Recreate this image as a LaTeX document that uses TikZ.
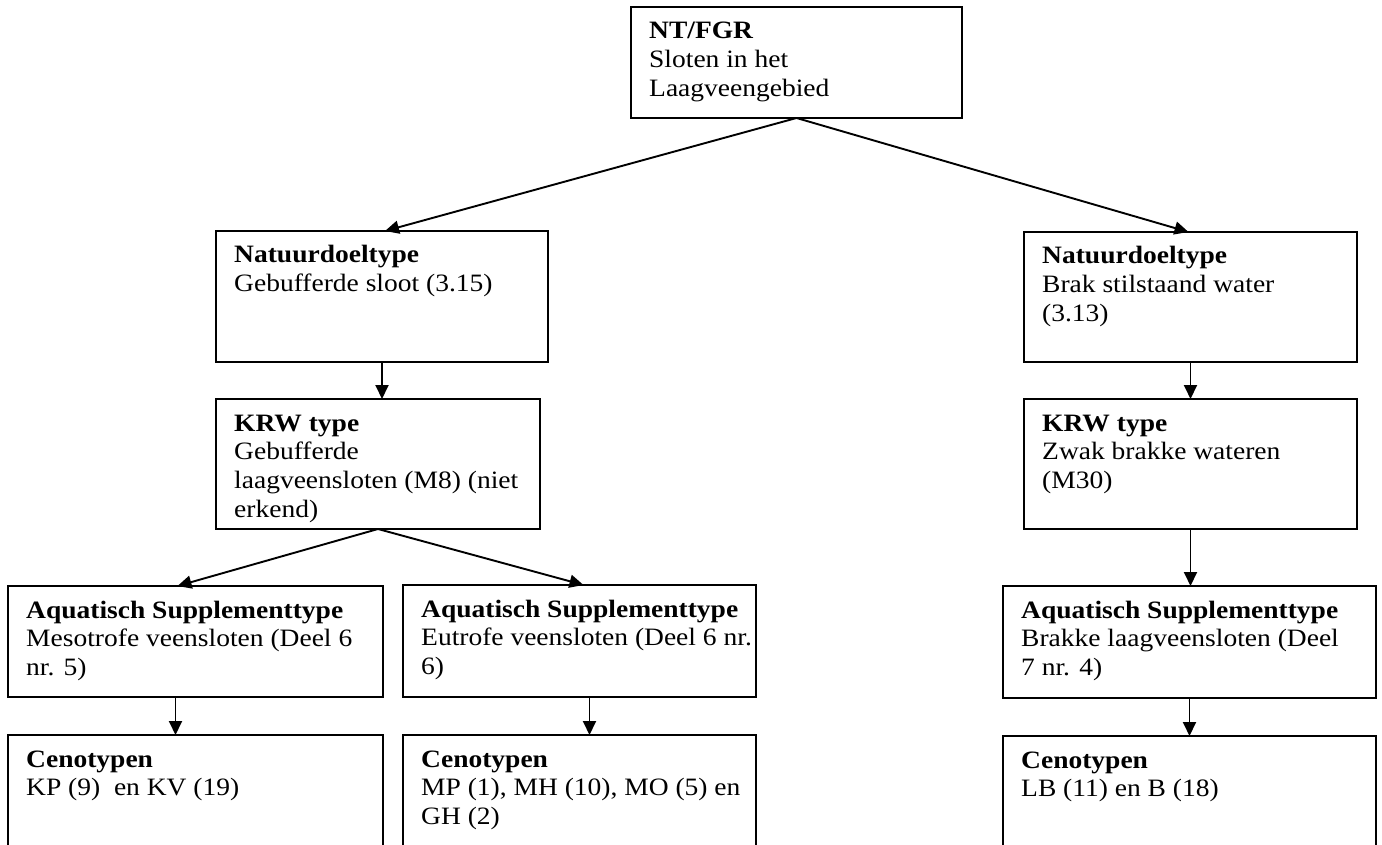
\documentclass[tikz,border=0pt]{standalone}
\usepackage{fontspec}
\setmainfont{Liberation Serif}[FakeStretch=1.1]
\usetikzlibrary{arrows.meta}
\tikzset{
  box/.style={draw, line width=1.8pt, rectangle, anchor=north west, inner sep=0pt, outer sep=0pt},
  txt/.style={anchor=base west, inner sep=0pt, font=\fontsize{25}{28.7}\selectfont},
  arr/.style={line width=1.9pt, -{Triangle[length=14pt,width=13pt]}}
}
\newcommand\flowbox[6]{%
  \node[box, minimum width=#4-#2, minimum height=#5-#3] (#1) at (#2,#3) {};
  \node[txt] (#1t) at ([xshift=18pt,yshift=-32pt]#1.north west) {\parbox[t]{420pt}{\raggedright #6}};
}
\begin{document}
\begin{tikzpicture}[x=1pt,y=-1pt]
\useasboundingbox (0,0) rectangle (1382,845);
\clip (0,0) rectangle (1382,845);
\fill[white] (0,0) rectangle (1382,845);

\flowbox{top}{631}{7}{962}{118}{\textbf{NT/FGR}\\Sloten in het\\Laagveengebied}
\flowbox{n1}{216}{231}{548}{362}{\textbf{Natuurdoeltype}\\Gebufferde sloot (3.15)}
\flowbox{n2}{1024}{232}{1357}{362}{\textbf{Natuurdoeltype}\\Brak stilstaand water\\(3.13)}
\flowbox{k1}{216}{399}{540}{529}{\textbf{KRW type}\\Gebufferde\\laagveensloten (M8) (niet\\erkend)}
\flowbox{k2}{1024}{399}{1357}{529}{\textbf{KRW type}\\Zwak brakke wateren\\(M30)}
\flowbox{a1}{8}{586}{383}{697}{\textbf{Aquatisch Supplementtype}\\Mesotrofe veensloten (Deel 6\\nr. 5)}
\flowbox{a2}{403}{585}{756}{697}{\textbf{Aquatisch Supplementtype}\\Eutrofe veensloten (Deel 6 nr.\\6)}
\flowbox{a3}{1003}{586}{1376}{698}{\textbf{Aquatisch Supplementtype}\\Brakke laagveensloten (Deel\\7 nr. 4)}
\flowbox{c1}{8}{735}{383}{900}{\textbf{Cenotypen}\\KP (9)\ \ en KV (19)}
\flowbox{c2}{403}{735}{756}{900}{\textbf{Cenotypen}\\MP (1), MH (10), MO (5) en\\GH (2)}
\flowbox{c3}{1003}{736}{1376}{900}{\textbf{Cenotypen}\\LB (11) en B (18)}

\draw[arr] (top.south) -- ([xshift=3pt]n1.north);
\draw[arr] (top.south) -- ([xshift=-2pt]n2.north);
\draw[arr] (n1.south) -- (n1.south |- k1.north);
\draw[arr] (n2.south) -- (n2.south |- k2.north);
\draw[arr] (k1.south) -- ([xshift=-18pt]a1.north);
\draw[arr] (k1.south) -- ([xshift=4pt]a2.north);
\draw[arr] (k2.south) -- (k2.south |- a3.north);
\draw[arr] ([xshift=-20pt]a1.south) -- ([xshift=-20pt]c1.north);
\draw[arr] ([xshift=10pt]a2.south) -- ([xshift=10pt]c2.north);
\draw[arr] (a3.south) -- (a3.south |- c3.north);
\end{tikzpicture}
\end{document}
